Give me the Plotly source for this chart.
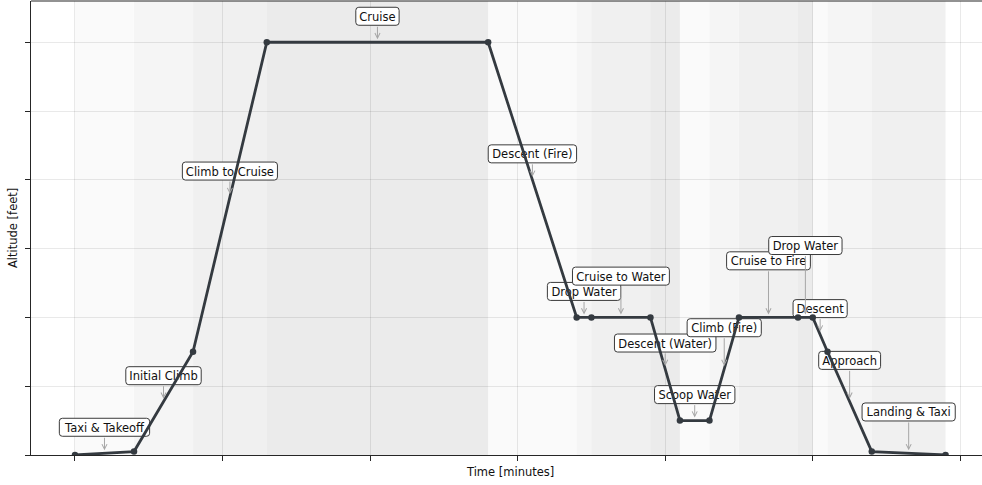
import plotly.graph_objects as go

# Flight profile of a firefighting sortie: one vertex per phase boundary
time_min = [0, 4, 8, 13, 28, 34, 35, 39, 41, 43, 45, 49, 50, 51, 54, 59]
altitude_ft = [0, 50, 1500, 6000, 6000, 2000, 2000, 2000, 500, 500,
               2000, 2000, 2000, 1500, 50, 0]
phases = ["Taxi & Takeoff", "Initial Climb", "Climb to Cruise", "Cruise",
          "Descent (Fire)", "Drop Water", "Cruise to Water", "Descent (Water)",
          "Scoop Water", "Climb (Fire)", "Cruise to Fire", "Drop Water",
          "Descent", "Approach", "Landing & Taxi"]
# stacking level of each label so neighbouring labels do not collide
label_level = [0, 0, 0, 0, 0, 0, 1, 0, 0, 1, 2, 3, 0, 1, 1]

W, H = 982, 485
M_L, M_R, M_T, M_B = 31, 0, 1, 30
X_RANGE = [-2.98, 61.47]
Y_RANGE = [0, 6600]

FONT = "DejaVu Sans"
FS = 11.5
LINE_C = "#343a40"

# DejaVu Sans advance widths (font units / 2048) for label text sizing
GLYPH_W = {" ": 651, "&": 1595, "(": 799, ")": 799, "A": 1401, "C": 1430,
           "D": 1577, "F": 1178, "I": 604, "L": 1141, "S": 1300, "T": 1251,
           "W": 2025, "a": 1255, "b": 1300, "c": 1126, "d": 1300, "e": 1260,
           "f": 721, "g": 1300, "h": 1298, "i": 569, "k": 1186, "l": 569,
           "m": 1995, "n": 1298, "o": 1253, "p": 1300, "r": 842, "s": 1067,
           "t": 803, "u": 1298, "x": 1212}


def text_width(s, size=FS):
    return sum(GLYPH_W.get(ch, 1250) for ch in s) / 2048 * size


def rounded_box(cx, cy, w, h, r=3.0):
    x0, x1 = cx - w / 2, cx + w / 2
    y0, y1 = cy - h / 2, cy + h / 2
    return (f"M{x0 + r},{y0} L{x1 - r},{y0} Q{x1},{y0} {x1},{y0 + r} "
            f"L{x1},{y1 - r} Q{x1},{y1} {x1 - r},{y1} L{x0 + r},{y1} "
            f"Q{x0},{y1} {x0},{y1 - r} L{x0},{y0 + r} Q{x0},{y0} {x0 + r},{y0} Z")


fig = go.Figure()
shapes = []
annotations = []

# alternating grey bands for the phases
for i in range(len(phases)):
    shapes.append(dict(
        type="rect", xref="x", yref="paper",
        x0=time_min[i], x1=time_min[i + 1], y0=0, y1=1,
        fillcolor=f"rgba(0,0,0,{0.02 * (i % 4 + 1):.2f})",
        line=dict(width=0), layer="below"))

BOX_H = 18
BASE_OFF = 26
STEP_OFF = 15.3
for i, name in enumerate(phases):
    mx = (time_min[i] + time_min[i + 1]) / 2
    my = (altitude_ft[i] + altitude_ft[i + 1]) / 2
    off = BASE_OFF + STEP_OFF * label_level[i]
    bw = text_width(name) + 7
    shapes.append(dict(
        type="path", xref="x", yref="y",
        xsizemode="pixel", ysizemode="pixel", xanchor=mx, yanchor=my,
        path=rounded_box(0, off, bw, BOX_H),
        fillcolor="white", line=dict(color="#3a3a3a", width=1),
        layer="between",
        label=dict(text=name, textposition="middle center",
                   font=dict(family=FONT, size=FS, color="#111111"))))
    annotations.append(dict(
        x=mx, y=my, xref="x", yref="y", text="", showarrow=True,
        ax=0, ay=-(off - BOX_H / 2), axref="pixel", ayref="pixel",
        arrowhead=5, arrowsize=1, arrowwidth=1, arrowcolor="#a6a6a6",
        standoff=3))

fig.add_trace(go.Scatter(
    x=time_min, y=altitude_ft, mode="lines+markers",
    line=dict(color=LINE_C, width=2.8),
    marker=dict(color=LINE_C, size=6.5),
    hoverinfo="skip", showlegend=False))

# top spine
shapes.append(dict(type="line", xref="paper", yref="paper",
                   x0=0, x1=1, y0=1, y1=1,
                   line=dict(color="#262626", width=1.2), layer="above"))

plot_w = W - M_L - M_R
plot_h = H - M_T - M_B
annotations.append(dict(
    text="Time [minutes]", xref="paper", yref="paper",
    x=(510 - M_L) / plot_w, y=-(472 - (H - M_B)) / plot_h,
    xanchor="center", yanchor="middle", showarrow=False,
    font=dict(family=FONT, size=FS, color="#111111")))
annotations.append(dict(
    text="Altitude [feet]", xref="paper", yref="paper",
    x=(13 - M_L) / plot_w, y=0.5, textangle=-90,
    xanchor="center", yanchor="middle", showarrow=False,
    font=dict(family=FONT, size=FS, color="#111111")))

axis_common = dict(
    showline=True, linecolor="#262626", linewidth=1.2,
    ticks="outside", ticklen=5, tickwidth=1, tickcolor="#262626",
    showticklabels=False, showgrid=True, gridcolor="rgba(0,0,0,0.085)",
    gridwidth=1, zeroline=False, fixedrange=True)

fig.update_layout(
    width=W, height=H,
    margin=dict(l=M_L, r=M_R, t=M_T, b=M_B),
    paper_bgcolor="white", plot_bgcolor="white",
    xaxis=dict(range=X_RANGE, tickmode="linear", tick0=0, dtick=10,
               **axis_common),
    yaxis=dict(range=Y_RANGE, tickmode="linear", tick0=0, dtick=1000,
               **axis_common),
    shapes=shapes, annotations=annotations,
    font=dict(family=FONT, size=FS),
)

fig.write_html("out.html")
